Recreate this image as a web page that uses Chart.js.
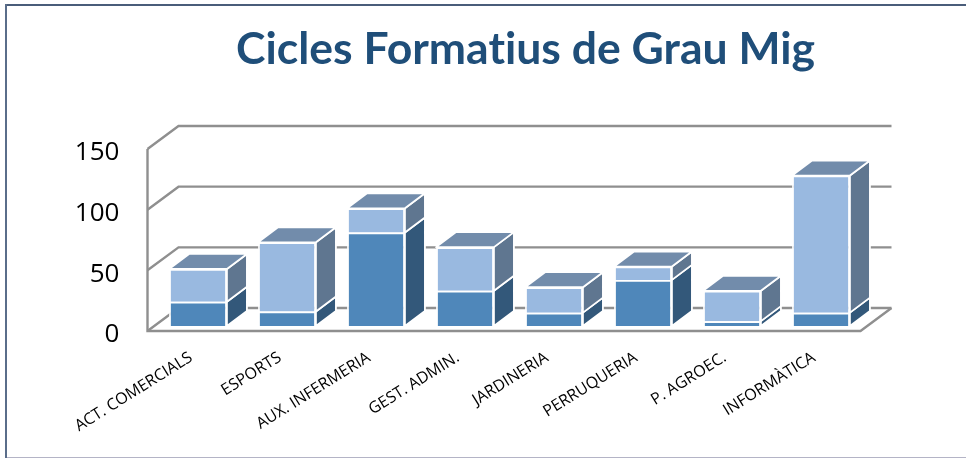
<!DOCTYPE html>
<html><head><meta charset="utf-8">
<script src="https://cdn.jsdelivr.net/npm/chart.js@4"></script>
<style>
html,body{margin:0;padding:0;background:#fff;overflow:hidden}
#wrap{position:relative;width:966px;height:458px}
canvas{position:absolute;left:0;top:0}
.f{position:absolute}
#ft{left:5px;top:4px;right:0;height:2px;background:#4a5d7a}
#fl{left:5px;top:4px;bottom:0;width:2px;background:#5a6d8a}
#fb{left:7px;right:0;bottom:0;height:1px;background:#b4b4c6}
</style></head><body>
<div id="wrap"><canvas id="c" width="966" height="458"></canvas>
<div class="f" id="ft"></div><div class="f" id="fl"></div><div class="f" id="fb"></div></div>
<script>
const titleText = "Cicles Formatius de Grau Mig";
const categories = ["ACT. COMERCIALS","ESPORTS","AUX. INFERMERIA","GEST. ADMIN.","JARDINERIA","PERRUQUERIA","P. AGROEC.","INFORMÀTICA"];
const lowerValues = [20,12,77,29,11,38,4,11];
const upperValues = [27,57,20,36,21,11,25,113];
const yTicks = [0,50,100,150];
const lowerColors = {front:"#4f87ba",side:"#33587a"};
const upperColors = {front:"#99b9e0",side:"#5f7690"};
const topColor = "#728cab";
const gridColor = "#8f8f8f";
const depth = {x:20,y:-15};          // bar depth
const wallFront = {x:-6,y:5};        // front edge of floor relative to the scale
const wallBack = {x:25,y:-18};       // back wall relative to the scale

function face(ctx,pts,fill){
  ctx.beginPath();pts.forEach((p,i)=>i?ctx.lineTo(p[0],p[1]):ctx.moveTo(p[0],p[1]));ctx.closePath();
  ctx.fillStyle=fill;ctx.fill();ctx.strokeStyle="#fff";ctx.lineWidth=1.8;ctx.stroke();
}
const walls = {id:"walls",
  beforeDraw(chart){ chart.ctx.letterSpacing="0.01px"; },
  afterLayout(chart){ chart.titleBlock.left = 185.5; },
  beforeDatasetsDraw(chart){
    const ctx=chart.ctx,y=chart.scales.y,a=chart.chartArea;
    const fl=a.left+wallFront.x,bl=a.left+wallBack.x,br=a.right+26,fr=br-(wallBack.x-wallFront.x);
    ctx.save();ctx.strokeStyle=gridColor;ctx.lineWidth=2.4;ctx.lineJoin="miter";
    yTicks.forEach(v=>{
      const p=y.getPixelForValue(v);
      ctx.beginPath();ctx.moveTo(fl,p+wallFront.y);ctx.lineTo(bl,p+wallBack.y);ctx.lineTo(br,p+wallBack.y);ctx.stroke();
    });
    const p0=y.getPixelForValue(0),pM=y.getPixelForValue(150);
    ctx.beginPath();ctx.moveTo(fl,pM+wallFront.y);ctx.lineTo(fl,p0+wallFront.y);ctx.lineTo(fr,p0+wallFront.y);ctx.lineTo(br,p0+wallBack.y);ctx.stroke();
    ctx.restore();
  },
  afterDatasetsDraw(chart){
    const ctx=chart.ctx;ctx.save();ctx.lineJoin="round";
    const dx=depth.x,dy=depth.y;
    chart.data.datasets.forEach((ds,di)=>{
      const c=di===0?lowerColors:upperColors;
      chart.getDatasetMeta(di).data.forEach(b=>{
        const p=b.getProps(["x","y","base","width"],true),r=p.x+p.width/2,l=p.x-p.width/2;
        face(ctx,[[r,p.y],[r+dx,p.y+dy],[r+dx,p.base+dy],[r,p.base]],c.side);
        if(di===chart.data.datasets.length-1)
          face(ctx,[[l,p.y],[l+dx,p.y+dy],[r+dx,p.y+dy],[r,p.y]],topColor);
      });
    });
    ctx.restore();
  }};
new Chart(document.getElementById("c"),{
  type:"bar",
  data:{labels:categories,datasets:[
    {label:"A",data:lowerValues,backgroundColor:lowerColors.front,borderColor:"#fff",borderWidth:1.8},
    {label:"B",data:upperValues,backgroundColor:upperColors.front,borderColor:"#fff",borderWidth:1.8}]},
  plugins:[walls],
  options:{responsive:false,animation:false,
    layout:{padding:{left:0,right:100.5,top:0,bottom:0}},
    datasets:{bar:{categoryPercentage:1,barPercentage:0.65}},
    plugins:{legend:{display:false},tooltip:{enabled:false},
      title:{display:true,text:titleText,color:"#1f4e79",fullSize:true,
        font:{family:"Lato",weight:"bold",size:44.5,lineHeight:1.2},padding:{top:23,bottom:67.6}}},
    scales:{
      x:{stacked:true,grid:{display:false},border:{display:false},
        afterFit(s){s.height=132;},
        ticks:{autoSkip:false,minRotation:32,maxRotation:32,padding:14,labelOffset:-7,color:"#000",font:{family:"Open Sans",size:16}}},
      y:{stacked:true,min:0,max:150,grid:{display:false},border:{display:false},
        afterFit(s){s.width=153.5;},
        afterBuildTicks(s){s.ticks=yTicks.map(v=>({value:v}));},
        ticks:{padding:26,labelOffset:9,color:"#000",font:{family:"Open Sans",size:26}}}
    }}
});
</script></body></html>
